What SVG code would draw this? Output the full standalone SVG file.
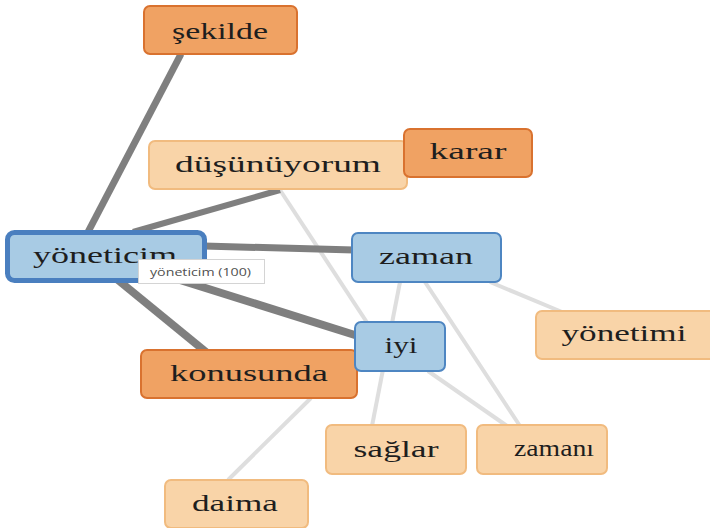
<svg xmlns="http://www.w3.org/2000/svg" width="710" height="528" viewBox="0 0 710 528">
<style>
.lbl{font-family:"Liberation Serif","DejaVu Serif",serif;font-size:23px;fill:#1e1e1e;text-anchor:middle}
.dark rect{fill:#f0a263;stroke:#d9722f;stroke-width:2}
.light rect{fill:#f9d4a8;stroke:#f1bb7f;stroke-width:2}
.blue rect{fill:#a8cbe4;stroke:#4e86c2;stroke-width:2}
.strong{stroke:#7f7f7f;stroke-linecap:butt}
.weak{stroke:#dedede;stroke-width:4}
</style>
<rect width="710" height="528" fill="#ffffff"/>
<g id="connectors">
  <line class="weak" x1="280" y1="190" x2="368" y2="324"/>
  <line class="weak" x1="400" y1="282" x2="372" y2="426"/>
  <line class="weak" x1="425" y1="282" x2="520" y2="426"/>
  <line class="weak" x1="428" y1="371" x2="507" y2="426"/>
  <line class="weak" x1="490" y1="282" x2="562" y2="312"/>
  <line class="weak" x1="311" y1="398" x2="228" y2="480"/>
  <line class="strong" stroke-width="7" x1="181" y1="54" x2="88" y2="232"/>
  <line class="strong" stroke-width="6" x1="280" y1="190" x2="133" y2="232"/>
  <line class="strong" stroke-width="7" x1="204" y1="246" x2="354" y2="250"/>
  <line class="strong" stroke-width="8" x1="180" y1="280" x2="358" y2="336"/>
  <line class="strong" stroke-width="8" x1="118" y1="280" x2="206" y2="352"/>
</g>
<g id="node-sekilde" class="dark"><rect x="144" y="6" width="153" height="48" rx="6"/><text class="lbl" x="220" y="39" textLength="96" lengthAdjust="spacingAndGlyphs">şekilde</text></g>
<g id="node-dusunuyorum" class="light"><rect x="149" y="141" width="258" height="48" rx="6"/><text class="lbl" x="278" y="172" textLength="206" lengthAdjust="spacingAndGlyphs">düşünüyorum</text></g>
<g id="node-karar" class="dark"><rect x="404" y="129" width="128" height="48" rx="6"/><text class="lbl" x="468" y="159" textLength="77" lengthAdjust="spacingAndGlyphs">karar</text></g>
<g id="node-zaman" class="blue"><rect x="352" y="233" width="149" height="49" rx="6"/><text class="lbl" x="426" y="264" textLength="94" lengthAdjust="spacingAndGlyphs">zaman</text></g>
<g id="node-yonetimi" class="light"><rect x="536" y="311" width="180" height="48" rx="6"/><text class="lbl" x="624" y="341" textLength="125" lengthAdjust="spacingAndGlyphs">yönetimi</text></g>
<g id="node-konusunda" class="dark"><rect x="141" y="350" width="216" height="48" rx="6"/><text class="lbl" x="249" y="381" textLength="158" lengthAdjust="spacingAndGlyphs">konusunda</text></g>
<g id="node-iyi" class="blue"><rect x="355" y="322" width="90" height="49" rx="6"/><text class="lbl" x="401" y="353" textLength="33" lengthAdjust="spacingAndGlyphs">iyi</text></g>
<g id="node-saglar" class="light"><rect x="326" y="425" width="140" height="49" rx="6"/><text class="lbl" x="396" y="457" textLength="85" lengthAdjust="spacingAndGlyphs">sağlar</text></g>
<g id="node-zamani" class="light"><rect x="477" y="425" width="130" height="49" rx="6"/><text class="lbl" x="554" y="456" textLength="80" lengthAdjust="spacingAndGlyphs">zamanı</text></g>
<g id="node-daima" class="light"><rect x="165" y="480" width="143" height="48" rx="6"/><text class="lbl" x="235" y="511" textLength="86" lengthAdjust="spacingAndGlyphs">daima</text></g>
<g id="node-yoneticim" class="blue"><rect x="7.5" y="232.5" width="197" height="48" rx="7" style="stroke-width:5;stroke:#4a7fbf"/><text class="lbl" x="105" y="263" textLength="144" lengthAdjust="spacingAndGlyphs">yöneticim</text></g>
<g id="tooltip"><rect x="138.5" y="259.5" width="126" height="24" fill="#ffffff" stroke="#d4d4d4" stroke-width="1"/><text x="150" y="276" font-family="'Open Sans','Liberation Sans',sans-serif" font-size="11.5" fill="#505050" textLength="101" lengthAdjust="spacingAndGlyphs">yöneticim (100)</text></g>
</svg>
